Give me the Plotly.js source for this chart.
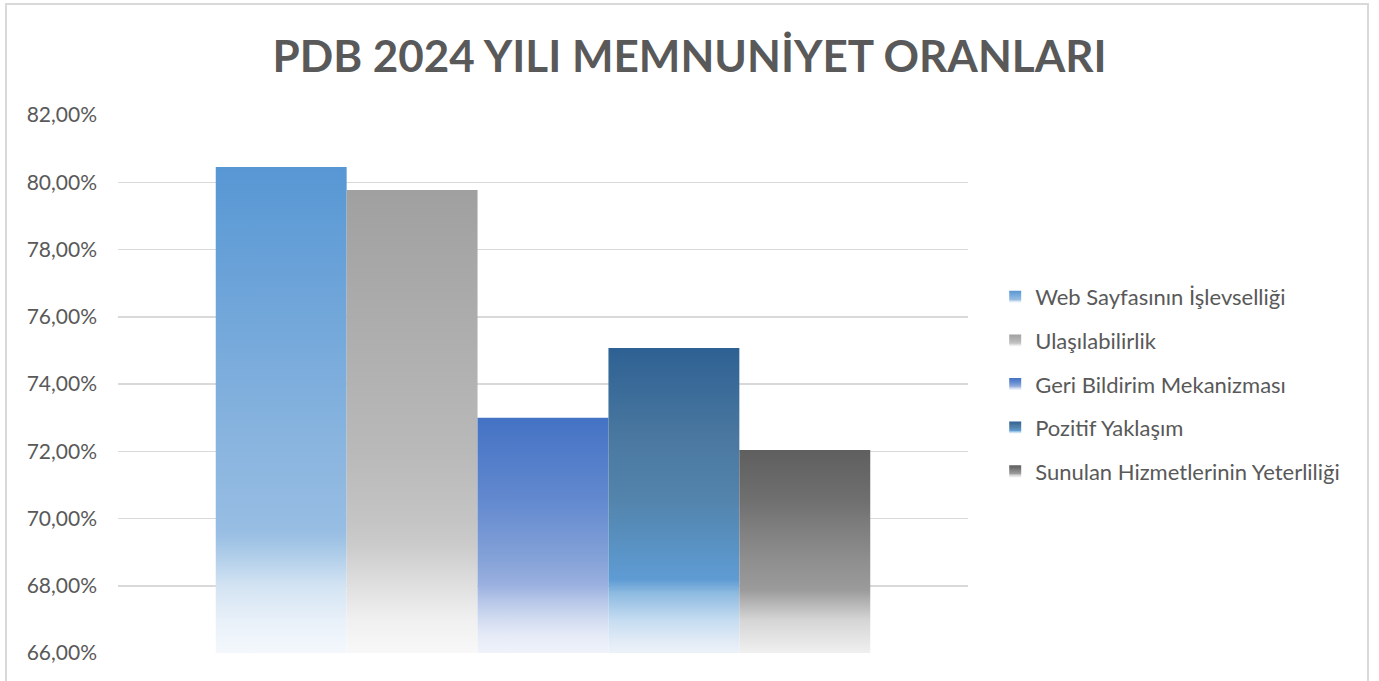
<!DOCTYPE html>
<html>
<head>
<meta charset="utf-8">
<script src="https://cdn.plot.ly/plotly-3.0.1.min.js"></script>
<style>
  html, body { margin: 0; padding: 0; background: #ffffff; overflow: hidden; }
  #frame { position: absolute; left: 5px; top: 3px; width: 1364px; height: 700px; border: 2px solid #d9d9d9; box-sizing: border-box; pointer-events: none; z-index: 5; }
  #chart { position: absolute; left: 0; top: 0; width: 1379px; height: 681px; }
</style>
</head>
<body>
<div id="chart"></div>
<div id="frame"></div>
<script>
// ---- data ----
const chartTitle = 'PDB 2024 YILI MEMNUNİYET ORANLARI';
const category = ['PDB 2024'];
const seriesNames = [
  'Web Sayfasının İşlevselliği',
  'Ulaşılabilirlik',
  'Geri Bildirim Mekanizması',
  'Pozitif Yaklaşım',
  'Sunulan Hizmetlerinin Yeterliliği'
];
const seriesValues = [0.8045, 0.7977, 0.7300, 0.7507, 0.7204];
const yRange = [0.66, 0.82];
const yTickValues = [0.66, 0.68, 0.70, 0.72, 0.74, 0.76, 0.78, 0.80, 0.82];

// ---- styling (gradient stops: offset from top of bar, colour) ----
const solidColors = ['#7aaede', '#bdbdbd', '#6a8fd0', '#5384ac', '#8a8a8a'];
const gradientStops = [
  [[0, '#5797d4'], [0.58, '#8ab5df'], [0.747, '#97bde3'], [0.778, '#a4c6e6'], [0.864, '#d4e4f3'], [0.932, '#e8f0f9'], [1, '#f4f8fc']],
  [[0, '#a0a0a0'], [0.566, '#b9b9b9'], [0.713, '#c4c4c4'], [0.767, '#cbcbcb'], [0.857, '#e0e0e0'], [0.929, '#f0f0f0'], [1, '#f8f8f8']],
  [[0, '#4472c4'], [0.35, '#6289cf'], [0.604, '#85a2d8'], [0.71, '#9ab0df'], [0.774, '#b5c5e8'], [0.86, '#d3ddf1'], [0.93, '#e6ebf7'], [1, '#f0f3fb']],
  [[0, '#2e6193'], [0.30, '#4a78a0'], [0.498, '#5384ac'], [0.63, '#5890c0'], [0.76, '#5f9cd4'], [0.803, '#8dbae1'], [0.892, '#c5dcf1'], [0.957, '#e0eaf6'], [1, '#edf2f9']],
  [[0, '#5f5f5f'], [0.246, '#6f6f6f'], [0.345, '#7a7a7a'], [0.54, '#8e8e8e'], [0.69, '#9b9b9b'], [0.764, '#b9b9b9'], [0.837, '#d5d5d5'], [1, '#f0f0f0']]
];

const FONT = 'Lato, "Open Sans", sans-serif';

const traces = seriesNames.map((name, i) => ({
  type: 'bar',
  name: name,
  x: category,
  y: [seriesValues[i] - yRange[0]],
  base: yRange[0],
  customdata: [seriesValues[i]],
  legendgroup: 'g' + i,
  marker: { color: solidColors[i], line: { width: 0 } },
  hovertemplate: '%{customdata:.2%}<extra>' + name + '</extra>'
}));

const layout = {
  width: 1379,
  height: 681,
  paper_bgcolor: '#ffffff',
  plot_bgcolor: '#ffffff',
  separators: ',.',
  margin: { l: 118, r: 411, t: 115, b: 28, pad: 0 },
  title: {
    text: '<b>' + chartTitle + '</b>',
    font: { family: FONT, size: 44, color: '#595959' },
    x: 0.5, xref: 'container', xanchor: 'center',
    y: 1 - 57 / 681, yref: 'container', yanchor: 'middle'
  },
  barmode: 'group',
  bargap: 0.23,
  bargroupgap: 0,
  xaxis: {
    showticklabels: false,
    showgrid: false,
    zeroline: false,
    showline: false,
    ticks: ''
  },
  yaxis: {
    range: yRange,
    tickvals: yTickValues,
    tickformat: '.2%',
    showgrid: true,
    gridcolor: '#d9d9d9',
    gridwidth: 1.5,
    zeroline: false,
    showline: false,
    ticks: '',
    ticklabelstandoff: 20,
    tickfont: { family: FONT, size: 21, color: '#595959' }
  },
  showlegend: true,
  legend: {
    x: 1.032, xanchor: 'left',
    y: 0.5, yanchor: 'middle',
    font: { family: FONT, size: 22, color: '#595959' },
    tracegroupgap: 12,
    itemwidth: 30,
    bgcolor: 'rgba(0,0,0,0)'
  }
};

function applyGradients(gd) {
  const svg = gd.querySelector('svg.main-svg');
  const ns = 'http://www.w3.org/2000/svg';
  let defs = svg.querySelector('defs#custom-grad-defs');
  if (!defs) {
    defs = document.createElementNS(ns, 'defs');
    defs.setAttribute('id', 'custom-grad-defs');
    svg.insertBefore(defs, svg.firstChild);
  }
  defs.innerHTML = '';
  gradientStops.forEach((stops, i) => {
    const lg = document.createElementNS(ns, 'linearGradient');
    lg.setAttribute('id', 'barGrad' + i);
    lg.setAttribute('x1', '0'); lg.setAttribute('y1', '0');
    lg.setAttribute('x2', '0'); lg.setAttribute('y2', '1');
    stops.forEach(([off, col]) => {
      const s = document.createElementNS(ns, 'stop');
      s.setAttribute('offset', off);
      s.setAttribute('stop-color', col);
      lg.appendChild(s);
    });
    defs.appendChild(lg);
  });
  gd.querySelectorAll('.barlayer .trace').forEach((t, i) => {
    t.querySelectorAll('path').forEach(p => { p.style.fill = 'url(#barGrad' + i + ')'; });
  });
  gd.querySelectorAll('.legend .traces').forEach((t, i) => {
    t.querySelectorAll('.legendpoints path').forEach(p => { p.style.fill = 'url(#barGrad' + i + ')'; p.style.stroke = 'none'; });
  });
}

const gd = document.getElementById('chart');
Plotly.newPlot(gd, traces, layout, { displayModeBar: false, staticPlot: true }).then(() => {
  applyGradients(gd);
  gd.on('plotly_afterplot', () => applyGradients(gd));
});
</script>
</body>
</html>
